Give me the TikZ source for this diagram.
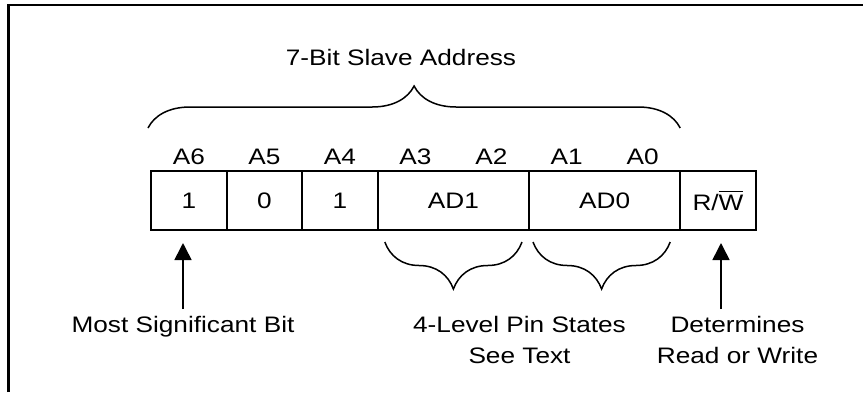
\documentclass[tikz,border=0pt]{standalone}
\usepackage{fontspec}
\setmainfont{Liberation Sans}[FakeStretch=1.17]
\usepackage{amsmath}
\usetikzlibrary{calc, positioning, decorations.pathreplacing, arrows.meta}

\begin{document}
\begin{tikzpicture}
  [x=0.5pt, y=-0.5pt,
   font=\fontsize{11.2}{15.5}\selectfont,
   cell/.style={draw, line width=1pt, outer sep=0pt, inner sep=0pt,
                minimum width=37.8pt, minimum height=29.5pt},
   wide/.style={minimum width=75.6pt},
   bitname/.style={anchor=base},
   brace/.style={decorate, decoration={brace, amplitude=#1}, line width=0.75pt},
   pointer/.style={-{Triangle[length=8.5pt, width=8.5pt]}, line width=0.8pt, shorten >=6.5pt},
   note/.style={align=center, anchor=north}]
  \useasboundingbox (0,0) rectangle (863,392);
  \draw[line width=1.25pt] (8.5,392) |- (863,5);

  % nodes %
  \node[cell] (b6) at (188.8,200.5) {1};
  \node[cell, right=0pt of b6] (b5) {0};
  \node[cell, right=0pt of b5] (b4) {1};
  \node[cell, wide, right=0pt of b4] (ad1) {AD1};
  \node[cell, wide, right=0pt of ad1] (ad0) {AD0};
  \node[cell, right=0pt of ad0] (rw) {R/$\overline{\mbox{W}}$};

  \node[bitname] (n6) at ([yshift=3.4pt]b6.north) {A6};
  \node[bitname] (n5) at ([yshift=3.4pt]b5.north) {A5};
  \node[bitname] (n4) at ([yshift=3.4pt]b4.north) {A4};
  \node[bitname] (n3) at ([xshift=-19pt, yshift=3.4pt]ad1.north) {A3};
  \node[bitname] (n2) at ([xshift=19pt, yshift=3.4pt]ad1.north) {A2};
  \node[bitname] (n1) at ([xshift=-19pt, yshift=3.4pt]ad0.north) {A1};
  \node[bitname] (n0) at ([xshift=19pt, yshift=3.4pt]ad0.north) {A0};

  \node[anchor=base] (title) at (401,65) {7-Bit Slave Address};
  \node[note] (msb) at (183,309) {Most Significant Bit};
  \node[note] (pins) at (519.5,309) {4-Level Pin States\\See Text};
  \node[note] (rwnote) at (737.5,309) {Determines\\Read or Write};

  % braces %
  \draw[brace=21pt] ([xshift=-1.5pt, yshift=21.5pt]b6.north west)
    -- ([yshift=21.5pt]ad0.north east);
  \draw[brace=23.5pt] ([xshift=-3.5pt, yshift=-6pt]ad1.south east)
    -- ([xshift=3.5pt, yshift=-6pt]ad1.south west);
  \draw[brace=23.5pt] ([xshift=-5pt, yshift=-6pt]ad0.south east)
    -- ([xshift=2pt, yshift=-6pt]ad0.south west);

  % edges %
  \draw[pointer] (msb) -- (msb |- b6.south);
  \draw[pointer] ([xshift=1.5pt]rwnote.north -| rw.south) -- ([xshift=1.5pt]rw.south);
\end{tikzpicture}
\end{document}
